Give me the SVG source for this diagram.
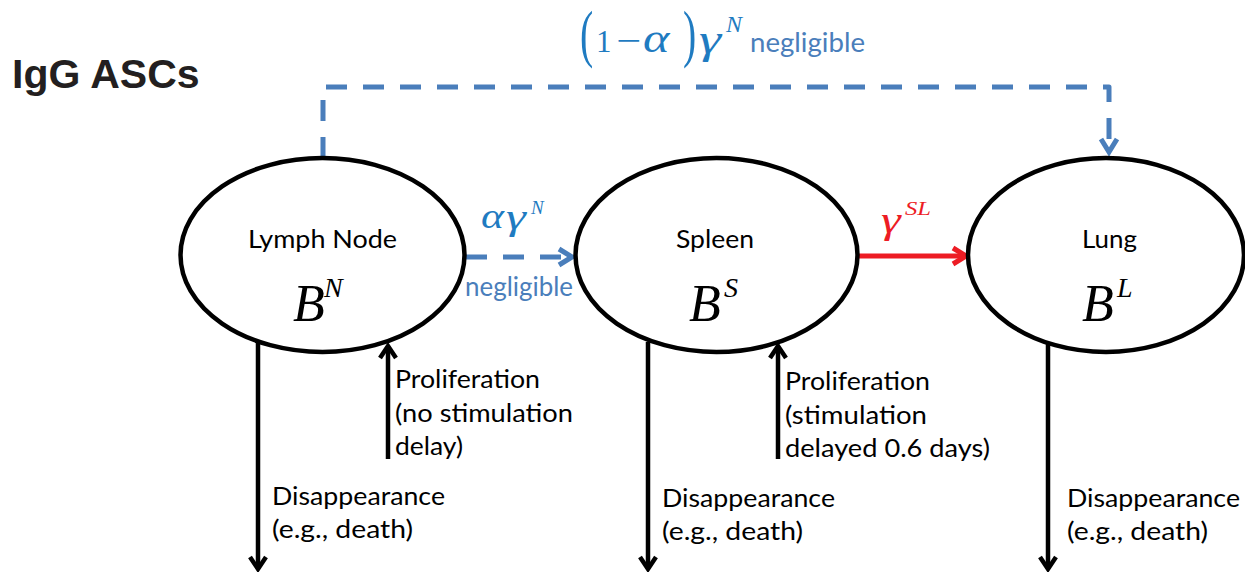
<svg xmlns="http://www.w3.org/2000/svg" width="1245" height="572" viewBox="0 0 1245 572">
<defs>
<style>
.node{fill:#fff;stroke:#000;stroke-width:4.5}
.lbl{font-family:Lato,"Liberation Sans",sans-serif;font-size:25px;fill:#000}
.math{font-family:"Liberation Serif","Times New Roman",serif;font-style:italic}
.greek{font-family:"Liberation Serif","Times New Roman",serif;font-style:italic}
.up{font-family:"Liberation Serif","Times New Roman",serif}
.blue{fill:#1F7BC1}
.neg{font-family:Lato,"Liberation Sans",sans-serif;font-size:26px;fill:#4A7EBB}
.bl{stroke:#000;stroke-width:4.5;fill:none}
.dash{stroke:#4A7EBB;stroke-width:5;fill:none;stroke-dasharray:21 16}
</style>
<marker id="ahBlk" markerUnits="userSpaceOnUse" viewBox="-20 -12 24 24" refX="0" refY="0" markerWidth="24" markerHeight="24" orient="auto">
<path d="M-12,-8 L0,0 L-12,8" fill="none" stroke="#000" stroke-width="4.5"/>
</marker>
<marker id="ahBlue" markerUnits="userSpaceOnUse" viewBox="-20 -12 24 24" refX="0" refY="0" markerWidth="24" markerHeight="24" orient="auto">
<path d="M-13,-8 L0,0 L-13,8" fill="none" stroke="#4A7EBB" stroke-width="5"/>
</marker>
<marker id="ahRed" markerUnits="userSpaceOnUse" viewBox="-20 -12 24 24" refX="0" refY="0" markerWidth="24" markerHeight="24" orient="auto">
<path d="M-13,-8 L0,0 L-13,8" fill="none" stroke="#ED1C24" stroke-width="5"/>
</marker>
</defs>
<rect width="1245" height="572" fill="#fff"/>

<text x="12" y="88" font-family="'Liberation Sans',Arial,sans-serif" font-weight="bold" font-size="41" fill="#231F20">IgG ASCs</text>

<g id="connectors">
<path class="dash" d="M323,158 V87 H1109 V152" stroke-linejoin="round" marker-end="url(#ahBlue)"/>
<path class="dash" d="M466,257 H572" stroke-dasharray="20 16" marker-end="url(#ahBlue)"/>
<path d="M858,256 H966" stroke="#ED1C24" stroke-width="5" fill="none" marker-end="url(#ahRed)"/>
<path class="bl" d="M258,342 V569" marker-end="url(#ahBlk)"/>
<path class="bl" d="M388,459 V346" marker-end="url(#ahBlk)"/>
<path class="bl" d="M648,342 V569" marker-end="url(#ahBlk)"/>
<path class="bl" d="M778,459 V346" marker-end="url(#ahBlk)"/>
<path class="bl" d="M1048,342 V569" marker-end="url(#ahBlk)"/>
</g>

<g id="label-top">
<text class="up blue" transform="translate(580,55) scale(0.62,1)" font-size="64">(</text>
<text class="up blue" x="596" y="52" font-size="31">1</text>
<text class="up blue" transform="translate(616,52) scale(1.3,1)" font-size="34">−</text>
<text class="greek blue" transform="translate(643,52) scale(1.2,1)" font-size="42">α</text>
<text class="up blue" transform="translate(683,55) scale(0.62,1)" font-size="64">)</text>
<text class="greek blue" transform="translate(699,53) scale(1.4,1)" font-size="40">γ</text>
<text class="math blue" x="726" y="32" font-size="24">N</text>
<text class="neg" x="750" y="52" textLength="115" lengthAdjust="spacingAndGlyphs">negligible</text>
</g>

<g id="label-mid">
<text class="greek blue" transform="translate(481,228) scale(1.25,1)" font-size="35">α</text>
<text class="greek blue" transform="translate(506,229) scale(1.4,1)" font-size="36">γ</text>
<text class="math blue" x="531" y="214" font-size="19">N</text>
<text class="neg" x="465" y="296" textLength="108" lengthAdjust="spacingAndGlyphs">negligible</text>
</g>

<g id="label-red">
<text class="greek" transform="translate(881,233) scale(1.35,1)" font-size="37" fill="#ED1C24">γ</text>
<text class="math" x="905" y="215" font-size="18" fill="#ED1C24" textLength="26" lengthAdjust="spacingAndGlyphs">SL</text>
</g>

<g id="node-lymph">
<ellipse class="node" cx="322.5" cy="255" rx="142" ry="97"/>
<text class="lbl" x="248" y="248" textLength="149" lengthAdjust="spacingAndGlyphs">Lymph Node</text>
<text class="math" x="293" y="321" font-size="52">B</text>
<text class="math" x="324" y="297" font-size="28">N</text>
</g>

<g id="node-spleen">
<ellipse class="node" cx="716.5" cy="255" rx="141" ry="97"/>
<text class="lbl" x="676" y="248" textLength="78" lengthAdjust="spacingAndGlyphs">Spleen</text>
<text class="math" x="689" y="321" font-size="52">B</text>
<text class="math" x="724" y="297" font-size="28">S</text>
</g>

<g id="node-lung">
<ellipse class="node" cx="1106" cy="255" rx="138" ry="97"/>
<text class="lbl" x="1082" y="248" textLength="55" lengthAdjust="spacingAndGlyphs">Lung</text>
<text class="math" x="1082" y="321" font-size="52">B</text>
<text class="math" x="1117" y="297" font-size="28">L</text>
</g>

<g id="flow-labels">
<text class="lbl" x="395" y="388" textLength="145" lengthAdjust="spacingAndGlyphs">Proliferation</text>
<text class="lbl" x="395" y="422" textLength="178" lengthAdjust="spacingAndGlyphs">(no stimulation</text>
<text class="lbl" x="395" y="455" textLength="68" lengthAdjust="spacingAndGlyphs">delay)</text>
<text class="lbl" x="785" y="390" textLength="145" lengthAdjust="spacingAndGlyphs">Proliferation</text>
<text class="lbl" x="785" y="424" textLength="142" lengthAdjust="spacingAndGlyphs">(stimulation</text>
<text class="lbl" x="785" y="457" textLength="205" lengthAdjust="spacingAndGlyphs">delayed 0.6 days)</text>
<text class="lbl" x="272" y="505" textLength="173" lengthAdjust="spacingAndGlyphs">Disappearance</text>
<text class="lbl" x="272" y="538" textLength="141" lengthAdjust="spacingAndGlyphs">(e.g., death)</text>
<text class="lbl" x="662" y="507" textLength="173" lengthAdjust="spacingAndGlyphs">Disappearance</text>
<text class="lbl" x="662" y="540" textLength="141" lengthAdjust="spacingAndGlyphs">(e.g., death)</text>
<text class="lbl" x="1067" y="507" textLength="173" lengthAdjust="spacingAndGlyphs">Disappearance</text>
<text class="lbl" x="1067" y="540" textLength="141" lengthAdjust="spacingAndGlyphs">(e.g., death)</text>
</g>
</svg>
